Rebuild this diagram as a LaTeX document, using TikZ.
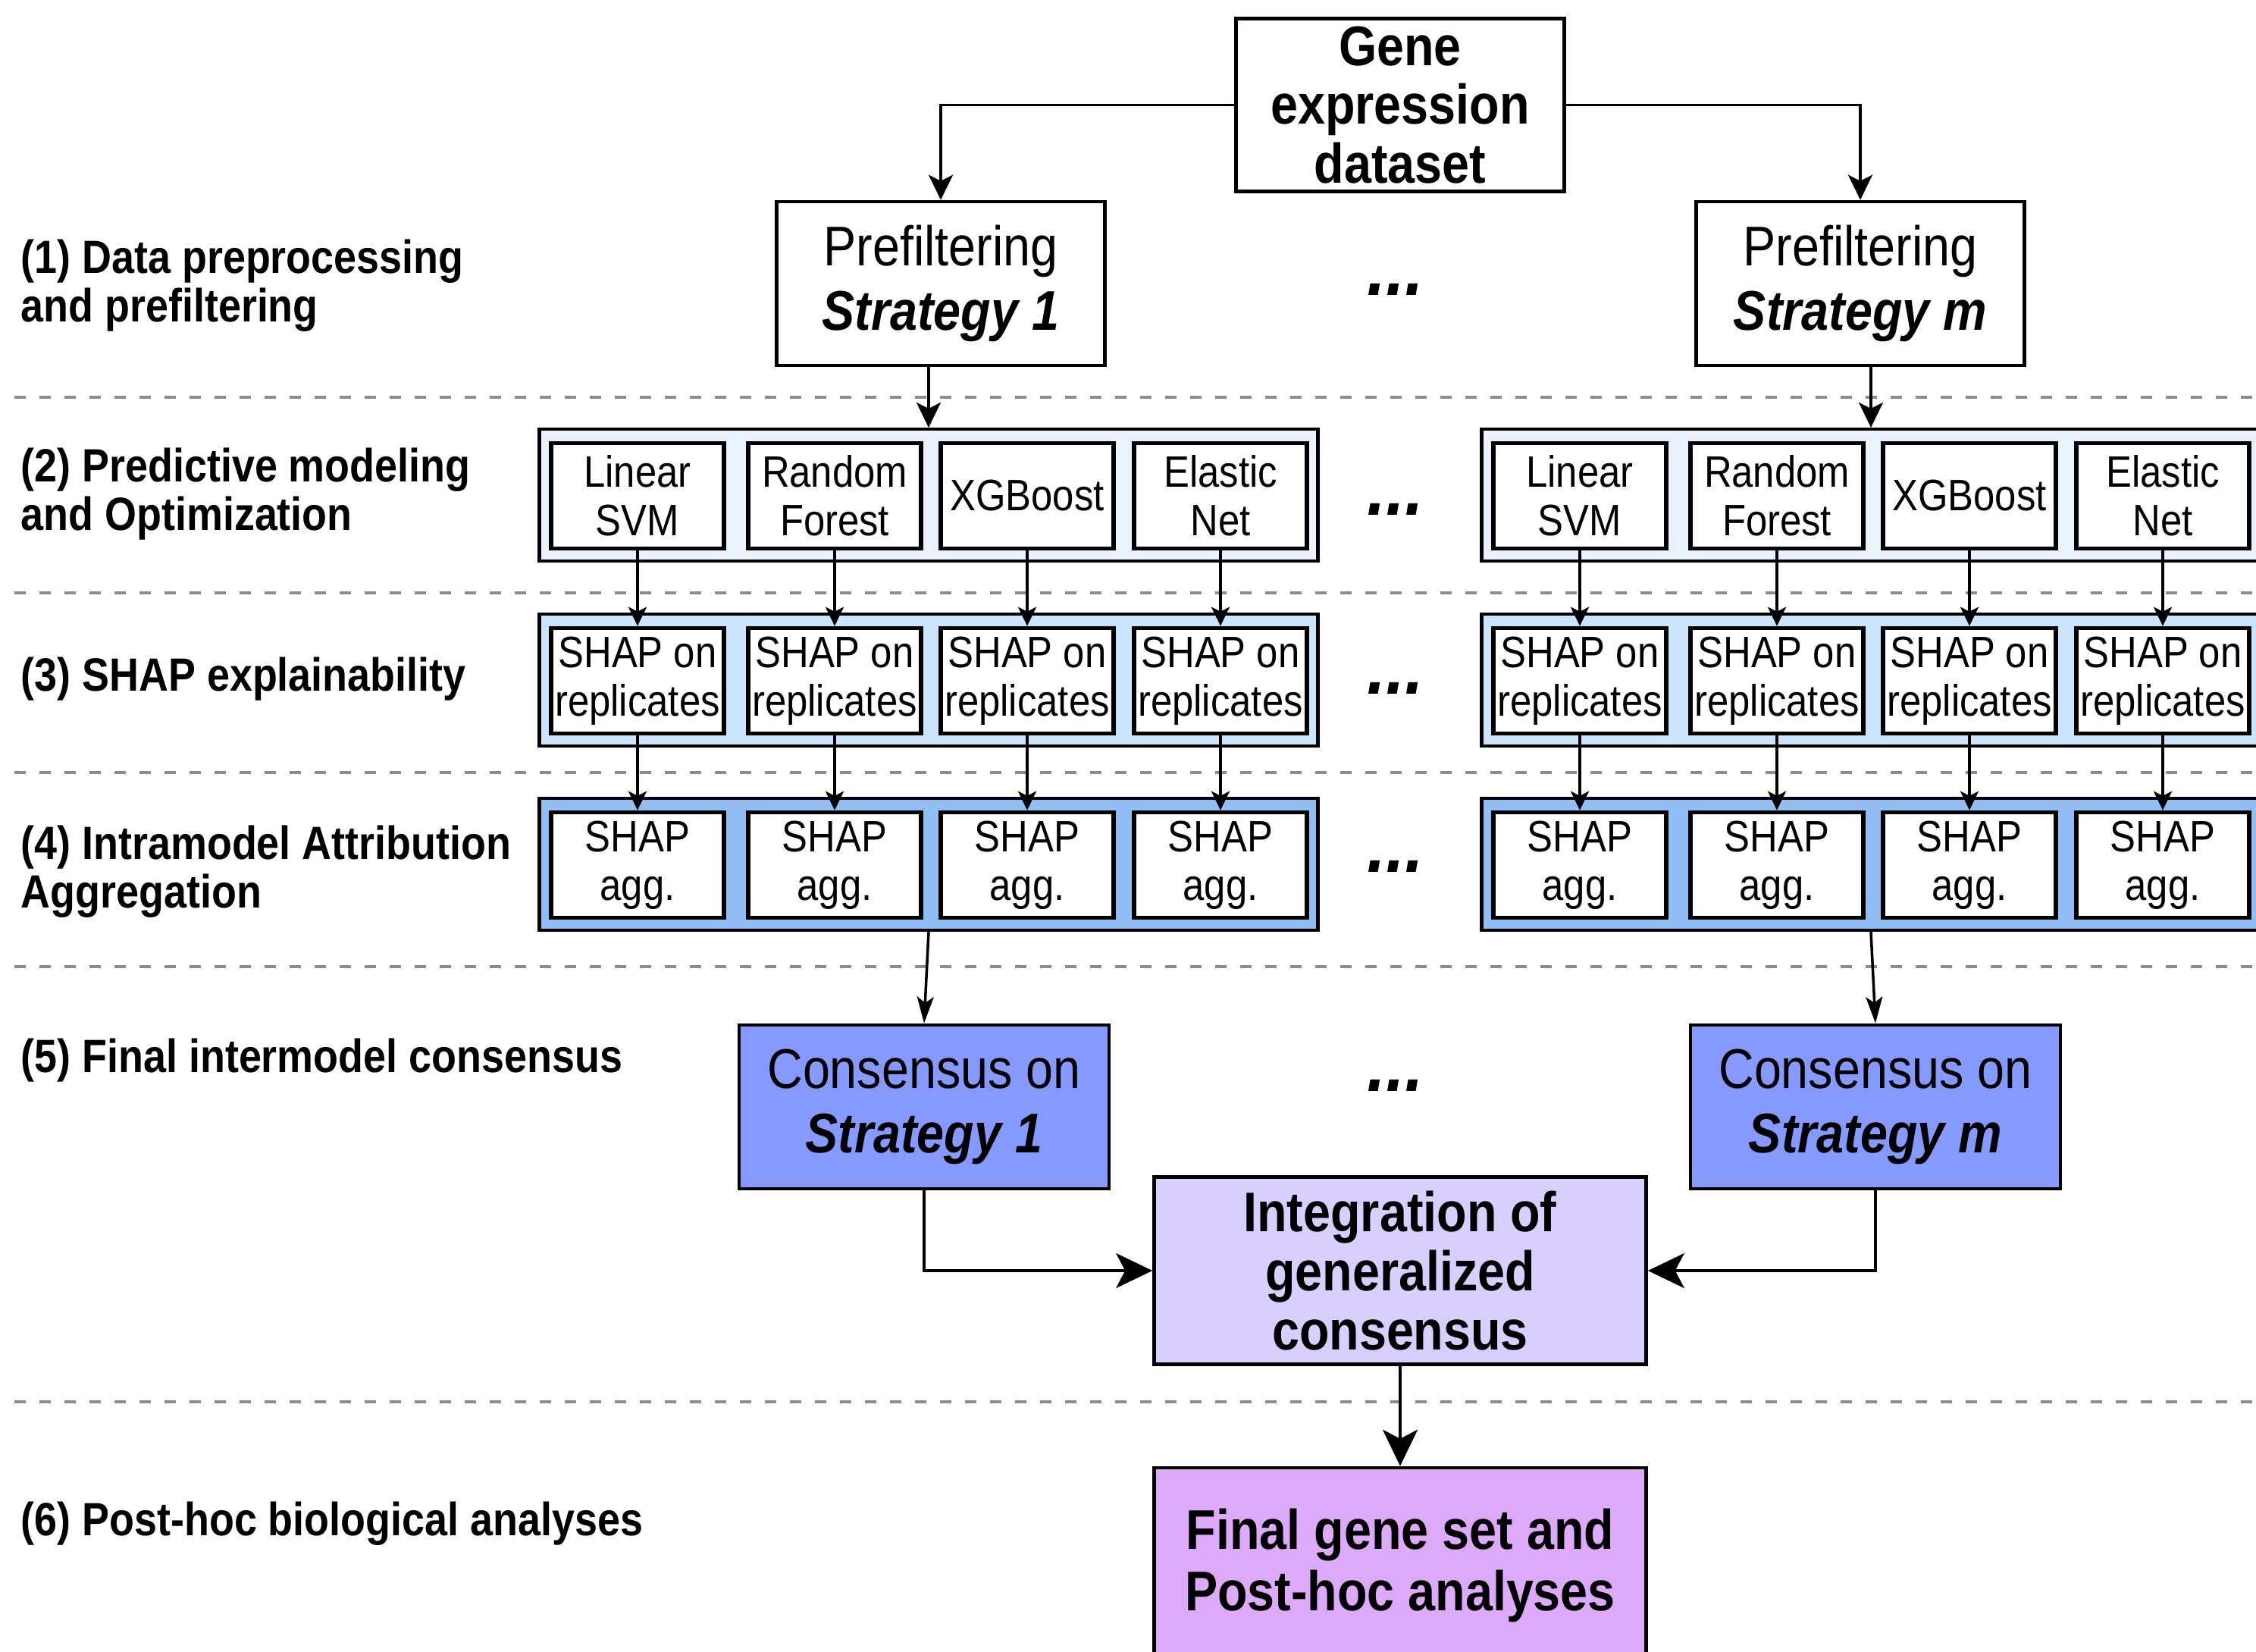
\documentclass[tikz,border=0pt]{standalone}
\usepackage{fontspec}
\setmainfont{Liberation Sans}[FakeStretch=0.876]
\usetikzlibrary{arrows.meta}
\definecolor{rowA}{RGB}{234,242,255}
\definecolor{rowB}{RGB}{204,229,255}
\definecolor{rowC}{RGB}{144,190,245}
\definecolor{consfill}{RGB}{133,153,255}
\definecolor{integfill}{RGB}{216,206,255}
\definecolor{finalfill}{RGB}{221,170,250}
\definecolor{sepgray}{RGB}{140,140,140}
\begin{document}
\begin{tikzpicture}[
  box/.style={draw, line width=1.3pt, align=center, inner sep=0pt,
    font=\fontsize{21}{22.6}\selectfont},
  innerbox/.style={draw, line width=1.6pt, fill=white, minimum width=2.28cm,
    minimum height=1.39cm, align=center, inner sep=0pt,
    font=\fontsize{16.5}{18.3}\selectfont},
  cont/.style={draw, line width=1.2pt, minimum width=10.27cm,
    minimum height=1.74cm, inner sep=0pt},
  lab/.style={anchor=west, align=left, inner sep=0pt,
    font=\bfseries\fontsize{17.5}{18.2}\selectfont},
  dots/.style={inner sep=0pt, font=\bfseries\itshape\fontsize{29}{29}\selectfont},
  sep/.style={draw=sepgray, line width=1.1pt, dash pattern=on 0.15cm off 0.18cm},
  arr/.style={-{Stealth[length=0.25cm,width=0.24cm,inset=0.06cm]}, line width=1pt},
  arrm/.style={-{Stealth[length=0.33cm,width=0.32cm,inset=0.08cm]}, line width=1.1pt},
  arrs/.style={-{Stealth[length=0.35cm,width=0.22cm,inset=0.08cm]}, line width=1pt},
  arrb/.style={-{Stealth[length=0.48cm,width=0.46cm,inset=0.12cm]}, line width=1.1pt}
]
\useasboundingbox (0,0) rectangle (29.76,-21.78);

% separators
\foreach \yy in {5.24, 7.82, 10.19, 12.75, 18.49}
  \draw[sep] (0.19,-\yy) -- (29.76,-\yy);

% stage labels
\node[lab] (l1) at (0.27,-3.77) {(1) Data preprocessing\\and prefiltering};
\node[lab] (l2) at (0.27,-6.52) {(2) Predictive modeling\\and Optimization};
\node[lab] (l3) at (0.27,-8.96) {(3) SHAP explainability};
\node[lab] (l4) at (0.27,-11.50) {(4) Intramodel Attribution\\Aggregation};
\node[lab] (l5) at (0.27,-13.99) {(5) Final intermodel consensus};
\node[lab] (l6) at (0.27,-20.10) {(6) Post-hoc biological analyses};

% top
\node[box, font=\bfseries\fontsize{21}{22.1}\selectfont, minimum width=4.33cm, minimum height=2.28cm]
  (gene) at (18.47,-1.385) {Gene\\expression\\dataset};
\node[box, minimum width=4.33cm, minimum height=2.16cm] (pf1) at (12.41,-3.74)
  {Prefiltering\\[1.5pt]\textbf{\textit{Strategy 1}}};
\node[box, minimum width=4.33cm, minimum height=2.16cm] (pfm) at (24.54,-3.74)
  {Prefiltering\\[1.5pt]\textbf{\textit{Strategy m}}};

% model blocks
\foreach \s/\dx in {L/0, R/12.43} {
  \node[cont, fill=rowA] (c2\s) at (12.25+\dx,-6.53) {};
  \node[cont, fill=rowB] (c3\s) at (12.25+\dx,-8.97) {};
  \node[cont, fill=rowC] (c4\s) at (12.25+\dx,-11.40) {};
  \foreach \k/\xx/\t in {1/8.41/{Linear\\SVM}, 2/11.01/{Random\\Forest}, 3/13.55/{XGBoost}, 4/16.10/{Elastic\\Net}} {
    \node[innerbox] (a\s\k) at (\xx+\dx,-6.54) {\t};
    \node[innerbox] (b\s\k) at (\xx+\dx,-8.98) {SHAP on\\replicates};
    \node[innerbox] (d\s\k) at (\xx+\dx,-11.41) {SHAP\\agg.};
    \draw[arr] (a\s\k) -- (b\s\k);
    \draw[arr] (b\s\k) -- (d\s\k);
  }
}

% consensus
\node[box, fill=consfill, minimum width=4.88cm, minimum height=2.16cm] (cons1) at (12.19,-14.60)
  {Consensus on\\[1.5pt]\textbf{\textit{Strategy 1}}};
\node[box, fill=consfill, minimum width=4.88cm, minimum height=2.16cm] (consm) at (24.74,-14.60)
  {Consensus on\\[1.5pt]\textbf{\textit{Strategy m}}};
\node[box, fill=integfill, font=\bfseries\fontsize{21}{22.1}\selectfont, minimum width=6.49cm, minimum height=2.47cm]
  (integ) at (18.47,-16.76) {Integration of\\generalized\\consensus};
\node[box, fill=finalfill, font=\bfseries\fontsize{21}{23}\selectfont, minimum width=6.49cm, minimum height=2.58cm]
  (final) at (18.47,-20.65) {Final gene set and\\Post-hoc analyses};

% ellipses
\foreach \yy/\nm in {3.82/e1, 6.72/e2, 9.08/e3, 11.43/e4, 14.32/e5}
  \node[dots] (\nm) at (18.41,-\yy) {...};

% connectors
\draw[arrm] (gene.west) -| (pf1.north);
\draw[arrm] (gene.east) -| (pfm.north);
\draw[arrm] (pf1.south -| c2L.north) -- (c2L.north);
\draw[arrm] (pfm.south -| c2R.north) -- (c2R.north);
\draw[arrs] (c4L.south) -- (cons1.north);
\draw[arrs] (c4R.south) -- (consm.north);
\draw[arrb] (cons1.south) |- (integ.west);
\draw[arrb] (consm.south) |- (integ.east);
\draw[arrb] (integ.south) -- (final.north);
\end{tikzpicture}
\end{document}
